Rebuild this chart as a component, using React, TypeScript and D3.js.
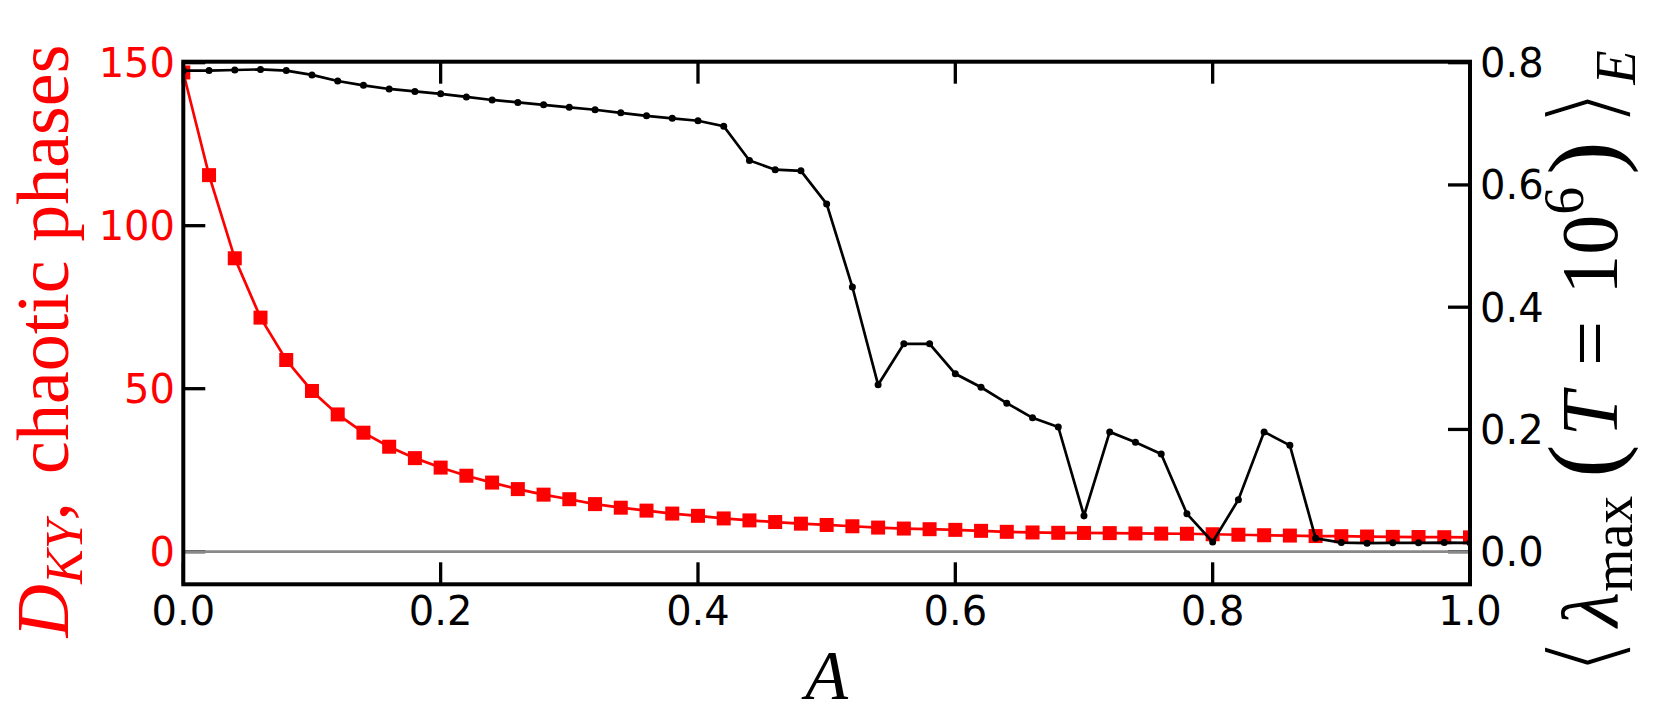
import React from "react";
import * as d3 from "d3";

const A_VALUES = [
  0, 0.02, 0.04, 0.06, 0.08, 0.1, 0.12, 0.14, 0.16, 0.18, 0.2, 0.22, 0.24, 0.26, 0.28, 0.3,
  0.32, 0.34, 0.36, 0.38, 0.4, 0.42, 0.44, 0.46, 0.48, 0.5, 0.52, 0.54, 0.56, 0.58, 0.6,
  0.62, 0.64, 0.66, 0.68, 0.7, 0.72, 0.74, 0.76, 0.78, 0.8, 0.82, 0.84, 0.86, 0.88, 0.9,
  0.92, 0.94, 0.96, 0.98, 1.0,
];

const DKY = [
  147, 115.5, 90.0, 71.8, 58.8, 49.3, 42.1, 36.5, 32.2, 28.7, 25.8, 23.3, 21.2, 19.2, 17.5,
  16.1, 14.6, 13.5, 12.6, 11.7, 11.0, 10.2, 9.6, 9.1, 8.6, 8.2, 7.8, 7.4, 7.1, 6.9, 6.7, 6.4,
  6.1, 5.9, 5.8, 5.75, 5.7, 5.6, 5.55, 5.5, 5.35, 5.2, 5.05, 4.95, 4.8, 4.75, 4.65, 4.55, 4.5,
  4.45, 4.4,
];

const LAMBDA = [
  0.787, 0.787, 0.788, 0.789, 0.787, 0.78, 0.77, 0.763, 0.757, 0.753, 0.749, 0.744, 0.739,
  0.735, 0.731, 0.727, 0.723, 0.718, 0.713, 0.709, 0.705, 0.696, 0.64, 0.625, 0.623, 0.569,
  0.433, 0.273, 0.34, 0.34, 0.291, 0.269, 0.243, 0.219, 0.204, 0.059, 0.196, 0.179, 0.16,
  0.062, 0.016, 0.085, 0.196, 0.174, 0.022, 0.015, 0.014, 0.0145, 0.0145, 0.015, 0.0145,
];

const X_TICKS = [0, 0.2, 0.4, 0.6, 0.8, 1.0];
const X_TICK_LABELS = ["0.0", "0.2", "0.4", "0.6", "0.8", "1.0"];
const LEFT_TICKS = [0, 50, 100, 150];
const LEFT_TICK_LABELS = ["0", "50", "100", "150"];
const RIGHT_TICKS = [0, 0.2, 0.4, 0.6, 0.8];
const RIGHT_TICK_LABELS = ["0.0", "0.2", "0.4", "0.6", "0.8"];

const W = 1660;
const H = 725;
const PL = 183.3;
const PR = 1470;
const PT = 61.7;
const PB = 584.3;
const LEFT_DOMAIN: [number, number] = [-10, 150.3];
const RATIO = 187.5;

const TICK_FONT = "'DejaVu Sans', sans-serif";
const MATH_FONT = "'Liberation Serif', 'DejaVu Serif', serif";
const BRACKET_FONT = "'DejaVu Sans', sans-serif";

export default function App() {
  const x = d3.scaleLinear().domain([0, 1]).range([PL, PR]);
  const yL = d3.scaleLinear().domain(LEFT_DOMAIN).range([PB, PT]);
  const yR = d3
    .scaleLinear()
    .domain([LEFT_DOMAIN[0] / RATIO, LEFT_DOMAIN[1] / RATIO])
    .range([PB, PT]);

  const redLine = d3
    .line<number>()
    .x((_, i) => x(A_VALUES[i]))
    .y((d) => yL(d))(DKY) as string;
  const blackLine = d3
    .line<number>()
    .x((_, i) => x(A_VALUES[i]))
    .y((d) => yR(d))(LAMBDA) as string;

  const tickLen = 22;
  const tickW = 3.3;
  const sq = 14;
  const tickFs = 40;

  return (
    <svg
      width={W}
      height={H}
      style={{ position: "absolute", left: 0, top: 0, background: "#fff" }}
    >
      <rect x={0} y={0} width={W} height={H} fill="#fff" />
      <defs>
        <clipPath id="plotclip">
          <rect x={PL} y={PT} width={PR - PL} height={PB - PT} />
        </clipPath>
      </defs>

      {/* ticks */}
      {X_TICKS.map((t) => (
        <g key={"xt" + t}>
          <line x1={x(t)} x2={x(t)} y1={PB} y2={PB - tickLen} stroke="#000" strokeWidth={tickW} />
          <line x1={x(t)} x2={x(t)} y1={PT} y2={PT + tickLen} stroke="#000" strokeWidth={tickW} />
        </g>
      ))}
      {LEFT_TICKS.map((t) => (
        <line key={"lt" + t} x1={PL} x2={PL + tickLen} y1={yL(t)} y2={yL(t)} stroke="#000" strokeWidth={tickW} />
      ))}
      {RIGHT_TICKS.map((t) => (
        <line key={"rt" + t} x1={PR} x2={PR - tickLen} y1={yR(t)} y2={yR(t)} stroke="#000" strokeWidth={tickW} />
      ))}

      <g clipPath="url(#plotclip)">
        {/* zero line */}
        <line x1={PL} x2={PR} y1={yL(0)} y2={yL(0)} stroke="#888" strokeWidth={2.7} />
        {/* red series */}
        <path d={redLine} fill="none" stroke="#ff0000" strokeWidth={2.7} />
        {DKY.map((d, i) => (
          <rect
            key={"r" + i}
            x={x(A_VALUES[i]) - sq / 2}
            y={yL(d) - sq / 2}
            width={sq}
            height={sq}
            fill="#ff0000"
          />
        ))}
        {/* black series */}
        <path d={blackLine} fill="none" stroke="#000" strokeWidth={2.7} />
        {LAMBDA.map((d, i) => (
          <circle key={"b" + i} cx={x(A_VALUES[i])} cy={yR(d)} r={3.5} fill="#000" />
        ))}
      </g>

      {/* spines */}
      <rect x={PL} y={PT} width={PR - PL} height={PB - PT} fill="none" stroke="#000" strokeWidth={4} />

      {/* tick labels */}
      {X_TICKS.map((t, i) => (
        <text
          key={"xl" + t}
          x={x(t)}
          y={625}
          textAnchor="middle"
          fontFamily={TICK_FONT}
          fontSize={tickFs}
          fill="#000"
        >
          {X_TICK_LABELS[i]}
        </text>
      ))}
      {LEFT_TICKS.map((t, i) => (
        <text
          key={"ll" + t}
          x={175}
          y={yL(t) + tickFs * 0.36}
          textAnchor="end"
          fontFamily={TICK_FONT}
          fontSize={tickFs}
          fill="#ff0000"
        >
          {LEFT_TICK_LABELS[i]}
        </text>
      ))}
      {RIGHT_TICKS.map((t, i) => (
        <text
          key={"rl" + t}
          x={1480}
          y={yR(t) + tickFs * 0.36}
          textAnchor="start"
          fontFamily={TICK_FONT}
          fontSize={tickFs}
          fill="#000"
        >
          {RIGHT_TICK_LABELS[i]}
        </text>
      ))}

      {/* x label */}
      <text
        x={(PL + PR) / 2}
        y={699}
        textAnchor="middle"
        fontFamily={MATH_FONT}
        fontStyle="italic"
        fontSize={70}
        fill="#000"
      >
        A
      </text>

      {/* left label */}
      <text
        transform={`translate(68,341) rotate(-90)`}
        textAnchor="middle"
        fontFamily={MATH_FONT}
        fontSize={74}
        fill="#ff0000"
      >
        <tspan fontStyle="italic">D</tspan>
        <tspan fontStyle="italic" fontSize={52} dy={14}>
          KY
        </tspan>
        <tspan dy={-14}>,</tspan>
        <tspan dx={28}>chaotic phases</tspan>
      </text>

      {/* right label */}
      <text
        transform={`translate(1617,363) rotate(-90)`}
        textAnchor="middle"
        fontFamily={MATH_FONT}
        fontSize={80}
        fill="#000"
      >
        <tspan
          fontFamily={BRACKET_FONT}
          fontSize={100}
          dy={2}
          stroke="#fff"
          strokeWidth={4}
        >
          ⟨
        </tspan>
        <tspan fontStyle="italic" dx={10} dy={-2}>
          λ
        </tspan>
        <tspan fontSize={56} dy={15}>
          max
        </tspan>
        <tspan fontSize={100} dx={18} dy={-15}>
          (
        </tspan>
        <tspan fontStyle="italic" dx={8}>
          T
        </tspan>
        <tspan dx={26}>=</tspan>
        <tspan dx={26}>10</tspan>
        <tspan fontSize={56} dy={-34}>
          6
        </tspan>
        <tspan fontSize={100} dx={12} dy={34}>
          )
        </tspan>
        <tspan
          fontFamily={BRACKET_FONT}
          fontSize={100}
          dx={14}
          dy={2}
          stroke="#fff"
          strokeWidth={4}
        >
          ⟩
        </tspan>
        <tspan fontStyle="italic" fontSize={56} dx={4} dy={16}>
          E
        </tspan>
      </text>
    </svg>
  );
}
